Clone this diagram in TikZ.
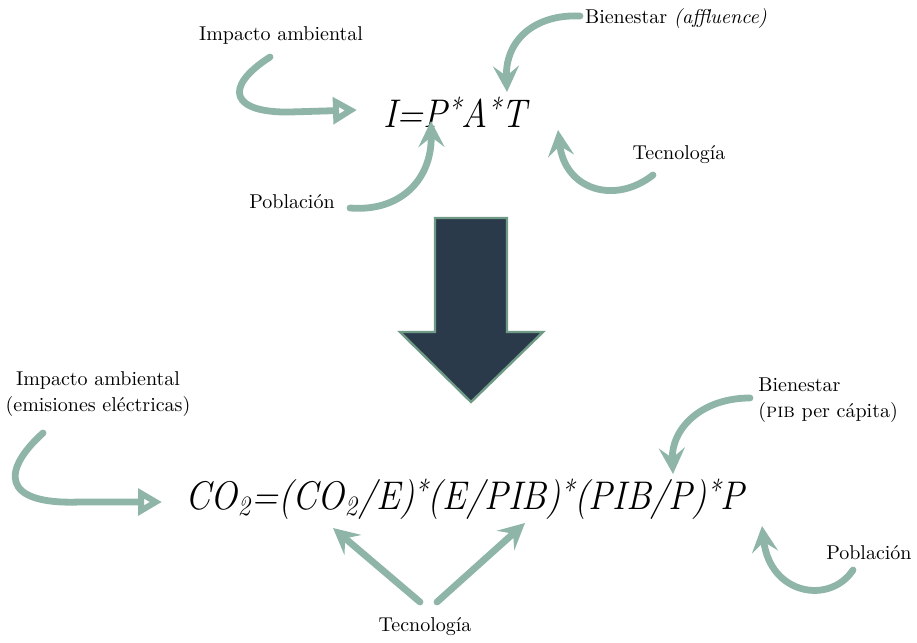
\documentclass[tikz,border=0pt]{standalone}
\usepackage{graphicx}
\usetikzlibrary{arrows.meta}

\definecolor{sage}{HTML}{8FB5A8}
\definecolor{slate}{HTML}{2B3A4A}
\definecolor{sageedge}{HTML}{6F9A86}

\def \arrowWidth {3.4pt}
\newcommand{\eqtext}[1]{\scalebox{0.9}[1]{\textit{#1}}}
\newcommand{\eqstar}{\raisebox{4pt}{\fontsize{15}{15}\selectfont *}}

\tikzset{
  factortext/.style={font=\fontsize{10}{13}\selectfont, inner sep=0pt, align=center},
  eqn/.style={font=\fontsize{20}{24}\selectfont, inner sep=0pt, anchor=base west},
  curvearrow/.style={draw=sage, line width=\arrowWidth, line cap=round,
    -{Stealth[length=13pt, width=13pt, inset=5pt]}},
  openarrow/.style={draw=sage, line width=\arrowWidth, line cap=round,
    -{Triangle[open, length=12pt, width=13pt, fill=white]}},
  bigarrow/.style={fill=slate, draw=sageedge, line width=1.2pt, line join=miter}
}

\begin{document}
\begin{tikzpicture}[x=0.5pt, y=-0.5pt]
  \useasboundingbox (0, 0) rectangle (917, 643);

  % first formula
  \node[eqn] (ipat) at (383, 127) {\eqtext{I=P\eqstar A\eqstar T}};
  \node[factortext] (impA) at (281, 35) {Impacto ambiental};
  \node[factortext] (bieA) at (676, 18) {Bienestar \textit{(affluence)}};
  \node[factortext] (tecA) at (679, 155) {Tecnología};
  \node[factortext] (pobA) at (292, 202) {Población};

  \coordinate (impAstart) at (270, 57);
  \coordinate (impAend) at (357, 110);
  \coordinate (bieAstart) at (580, 16);
  \coordinate (bieAend) at (507, 92);
  \coordinate (tecAstart) at (653, 175);
  \coordinate (tecAend) at (558, 130);
  \coordinate (pobAstart) at (350, 208);
  \coordinate (pobAend) at (431, 121);

  \draw[openarrow] (impAstart) .. controls (222, 88) and (232, 113) .. (290, 112) -- (impAend);
  \draw[curvearrow] (bieAstart) .. controls (535, 14) and (505, 40) .. (bieAend);
  \draw[curvearrow] (tecAstart) .. controls (615, 205) and (565, 190) .. (tecAend);
  \draw[curvearrow] (pobAstart) .. controls (400, 212) and (432, 180) .. (pobAend);

  % big arrow down
  \draw[bigarrow] (435, 218) -- (507, 218) -- (507, 332) -- (543, 332)
    -- (471, 402) -- (400, 332) -- (435, 332) -- cycle;

  % second formula
  \node[eqn] (kaya) at (185, 509)
    {\eqtext{CO\textsubscript{2}=(CO\textsubscript{2}/E)\eqstar(E/PIB)\eqstar(PIB/P)\eqstar P}};
  \node[factortext] (impB) at (98, 394) {Impacto ambiental\\(emisiones eléctricas)};
  \node[factortext, align=left, anchor=west] (bieB) at (758, 400) {Bienestar\\(\textsc{pib} per cápita)};
  \node[factortext] (tecB) at (425, 627) {Tecnología};
  \node[factortext, anchor=east] (pobB) at (912, 553) {Población};

  \coordinate (impBstart) at (43, 433);
  \coordinate (impBend) at (162, 502);
  \coordinate (bieBstart) at (750, 398);
  \coordinate (bieBend) at (673, 474);
  \coordinate (pobBstart) at (853, 570);
  \coordinate (pobBend) at (762, 526);
  \coordinate (tecBleft) at (420, 602);
  \coordinate (tecBright) at (437, 602);
  \coordinate (tecBendA) at (333, 528);
  \coordinate (tecBendB) at (525, 523);

  \draw[openarrow] (impBstart) .. controls (2, 470) and (0, 505) .. (80, 502) -- (impBend);
  \draw[curvearrow] (bieBstart) .. controls (700, 398) and (671, 430) .. (bieBend);
  \draw[curvearrow] (pobBstart) .. controls (830, 605) and (770, 595) .. (pobBend);
  \draw[curvearrow] (tecBleft) -- (tecBendA);
  \draw[curvearrow] (tecBright) -- (tecBendB);
\end{tikzpicture}
\end{document}
